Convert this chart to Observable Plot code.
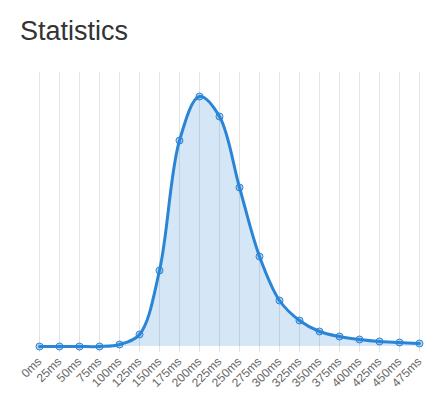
<!DOCTYPE html>
<html>
<head>
<meta charset="utf-8">
<script src="https://cdn.jsdelivr.net/npm/d3@7"></script>
<script src="https://cdn.jsdelivr.net/npm/@observablehq/plot@0.6"></script>
<style>
  html, body { margin: 0; padding: 0; background: #fff; }
  body { width: 440px; height: 399px; overflow: hidden; font-family: "Liberation Sans", Arial, Helvetica, sans-serif; }
  #title { height: 60px; box-sizing: border-box; padding: 14px 0 0 20px; font-size: 27px; color: #333; line-height: 34px; }
  #chart svg { display: block; }
</style>
</head>
<body>
<div id="title">Statistics</div>
<div id="chart"></div>
<script>
const categories = ["0ms","25ms","50ms","75ms","100ms","125ms","150ms","175ms","200ms","225ms","250ms","275ms","300ms","325ms","350ms","375ms","400ms","425ms","450ms","475ms"];
const values = [0, 0, 0, 0, 2, 12, 76, 206, 250, 230, 159, 90, 46, 26, 15, 10, 7, 5, 4, 3];

const data = categories.map((c, i) => ({ c, v: values[i] }));
const lineColor = "#2b85d6";

const chart = Plot.plot({
  width: 440,
  height: 339,
  marginTop: 12,
  marginBottom: 53,
  marginLeft: 37,
  marginRight: 20,
  style: { fontFamily: "'Liberation Sans', Arial, Helvetica, sans-serif", fontSize: "12px", background: "#fff" },
  x: { type: "point", domain: categories, padding: 0, label: null },
  y: { domain: [0, 274], axis: null },
  marks: [
    Plot.gridX(categories, { stroke: "#e3e3e3", strokeOpacity: 1, strokeWidth: 1 }),
    Plot.areaY(data, { x: "c", y: "v", curve: "catmull-rom", fill: "rgba(43,133,214,0.2)" }),
    Plot.axisX({ tickSize: 6, tickRotate: -45, stroke: "#e3e3e3", color: "#666", fontSize: 12, tickPadding: 7, label: null }),
    Plot.lineY(data, { x: "c", y: "v", curve: "catmull-rom", stroke: lineColor, strokeWidth: 3 }),
    Plot.dot(data, { x: "c", y: "v", r: 3.5, stroke: lineColor, strokeWidth: 1, fill: "rgba(43,133,214,0.35)" })
  ]
});
document.getElementById("chart").appendChild(chart);
</script>
</body>
</html>
